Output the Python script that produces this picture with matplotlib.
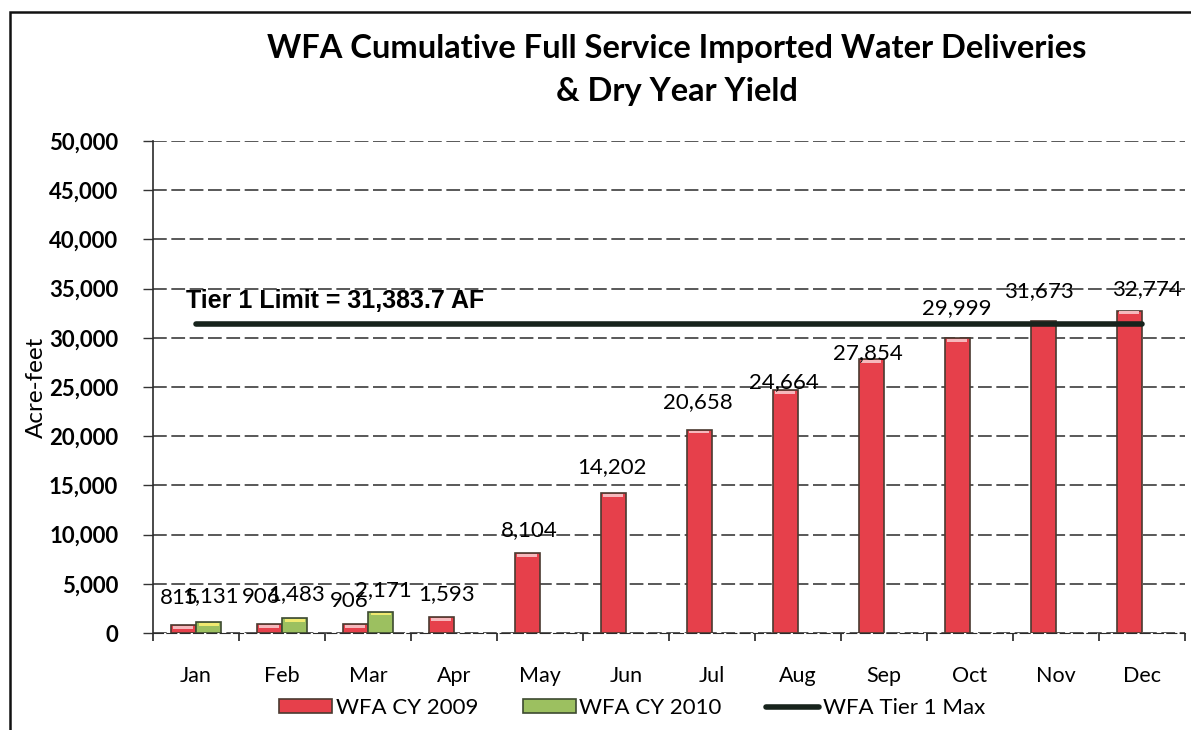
import matplotlib
matplotlib.use("Agg")
import matplotlib.pyplot as plt
import numpy as np
from matplotlib.patches import Rectangle
from matplotlib.lines import Line2D
from matplotlib.ticker import FuncFormatter, MultipleLocator

MONTHS = ["Jan", "Feb", "Mar", "Apr", "May", "Jun", "Jul", "Aug", "Sep", "Oct", "Nov", "Dec"]
CY2009 = [815, 906, 906, 1593, 8104, 14202, 20658, 24664, 27854, 29999, 31673, 32774]
CY2010 = [1131, 1483, 2171]
TIER1 = 31383.7

# label lift above each bar top (pixels), as the labels sit unevenly
LIFT_2009 = [27, 27, 23, 23, 23, 26, 28, 8, 6, 30, 30, 21]
LIFT_2010 = [26, 24, 22]
DX_2009 = [-4, -8, -6, 5, 2, -1, -1, -1, -3, 0, -4, 18]

plt.rcParams["font.family"] = ["Lato", "DejaVu Sans"]

fig = plt.figure(figsize=(11.91, 7.30), dpi=100)
ax = fig.add_axes([153 / 1191, 1 - 633 / 730, 1032 / 1191, 492 / 730])

x = np.arange(len(MONTHS))
w = 0.29
off = 0.15
red, red_edge = "#e6404b", "#4a3a30"
grn, grn_edge = "#9cc060", "#3d4a30"

b09 = ax.bar(x - off, CY2009, width=w, color=red, edgecolor=red_edge, lw=1.2, zorder=3)
b10 = ax.bar(x[:len(CY2010)] + off, CY2010, width=w, color=grn, edgecolor=grn_edge, lw=1.2, zorder=3)

# pale cap on top of each bar
for bars, cap in ((b09, "#f6b8bc"), (b10, "#f0ea70")):
    for b in bars:
        h = b.get_height()
        ax.add_patch(Rectangle((b.get_x() + 0.03, h - 380), b.get_width() - 0.06, 280,
                               color=cap, zorder=4, lw=0))

# tier 1 limit line across the months
ax.plot([x[0], x[-1]], [TIER1, TIER1], color="#17231c", lw=4, solid_capstyle="round", zorder=5)
ax.annotate("Tier 1 Limit = 31,383.7 AF", (x[0], TIER1), xytext=(-10, 23),
            textcoords="offset pixels", ha="left", va="center", fontsize=18,
            fontweight="bold", family="Liberation Sans", zorder=6)

for i, v in enumerate(CY2009):
    ax.annotate(f"{v:,}", (x[i] - off, v), xytext=(DX_2009[i], LIFT_2009[i]),
                textcoords="offset pixels", ha="center", va="center", fontsize=16, zorder=6)
for i, v in enumerate(CY2010):
    ax.annotate(f"{v:,}", (x[i] + off, v), xytext=(2, LIFT_2010[i]),
                textcoords="offset pixels", ha="center", va="center", fontsize=16, zorder=6)

ax.set_xlim(-0.5, len(MONTHS) - 0.5)
ax.set_ylim(0, 50000)
ax.yaxis.set_major_locator(MultipleLocator(5000))
ax.yaxis.set_major_formatter(FuncFormatter(lambda v, p: f"{int(v):,}"))
ax.set_xticks(x)
ax.set_xticklabels(MONTHS, fontsize=15.5)
ax.set_xticks(np.arange(-0.5, len(MONTHS)), minor=True)
ax.tick_params(axis="x", which="major", length=0, pad=24)
ax.tick_params(axis="x", which="minor", length=6, width=1.2, direction="out", color="#222")
ax.tick_params(axis="y", length=7, width=1, color="#333", pad=18, labelsize=16)
for t in ax.get_yticklabels():
    t.set_fontweight("bold")

ax.grid(axis="y", color="#2b2b2b", lw=1.1, ls=(0, (9, 3)), zorder=0)
for s in ("top", "right"):
    ax.spines[s].set_visible(False)
ax.spines["bottom"].set_linestyle((0, (9, 3)))
ax.spines["bottom"].set_color("#2b2b2b")
ax.spines["left"].set_color("#2b2b2b")
ax.spines["left"].set_linewidth(1.2)

fig.text(36 / 1191, 1 - 387 / 730, "Acre-feet", rotation=90, ha="center", va="center",
         fontsize=17.5)
fig.text(677 / 1191, 1 - 70 / 730, "WFA Cumulative Full Service Imported Water Deliveries\n& Dry Year Yield",
         ha="center", va="center", fontsize=23.5, fontweight="bold", linespacing=1.6)

handles = [Rectangle((0, 0), 1, 1, fc=red, ec=red_edge, lw=1.2),
           Rectangle((0, 0), 1, 1, fc=grn, ec=grn_edge, lw=1.2),
           Line2D([], [], color="#17231c", lw=4, solid_capstyle="round")]
fig.legend(handles, ["WFA CY 2009", "WFA CY 2010", "WFA Tier 1 Max"], ncol=3,
           loc="center", bbox_to_anchor=(632 / 1191, 1 - 708 / 730), frameon=False,
           fontsize=16, handlelength=2.4, handleheight=0.6, handletextpad=0.15,
           columnspacing=2.0)

# outer chart border
fig.add_artist(Rectangle((10 / 1191, -0.05), 1.2, 1 - 12 / 730 + 0.05,
                         transform=fig.transFigure, fill=False, ec="#111", lw=1.8))

fig.savefig("out.png", dpi=100)
